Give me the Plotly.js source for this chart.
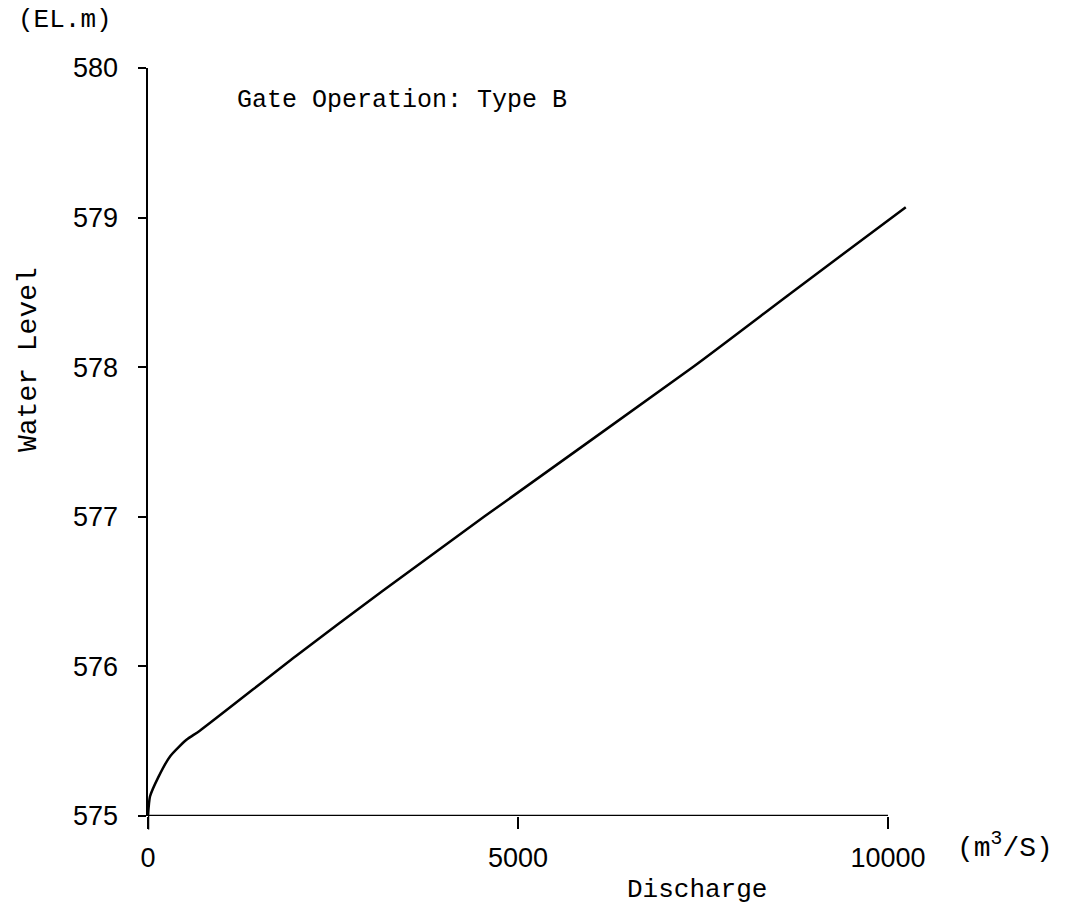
<!DOCTYPE html>
<html>
<head>
<meta charset="utf-8">
<script src="https://cdn.plot.ly/plotly-3.0.1.min.js"></script>
<style>html,body{margin:0;padding:0;background:#fff;}#chart{width:1068px;height:913px;}</style>
</head>
<body>
<div id="chart"></div>
<script>
// Discharge (m3/s) and water level (EL.m)
const discharge = [0, 27, 140, 300, 520, 700, 2000, 3160, 4540, 7360, 8700, 10240];
const waterLevel = [575, 575.13, 575.26, 575.40, 575.51, 575.57, 576.07, 576.5, 577.0, 578.0, 578.5, 579.07];

const xTickVals = [0, 5000, 10000];
const xTickText = ['0', '5000', '10000'];
const yTickVals = [575, 576, 577, 578, 579, 580];
const yTickText = ['575', '576', '577', '578', '579', '580'];

const chartTitle = 'Gate Operation: Type B';
const yUnit = '(EL.m)';
const yTitle = 'Water Level';
const xTitle = 'Discharge';
const xUnit = '(m<sup>3</sup>/S)';

const W = 1068, H = 913;
const L = 148, T = 68, PW = 777, PH = 748;
const px = v => (v - L) / PW;
const py = v => (T + PH - v) / PH;

const mono = 'Liberation Mono, DejaVu Sans Mono, monospace';
const numFont = 'Liberation Sans, Arial, sans-serif';

const trace = {
  x: discharge,
  y: waterLevel,
  type: 'scatter',
  mode: 'lines',
  line: {color: '#000', width: 2.5, shape: 'spline', smoothing: 0.6},
  hoverinfo: 'skip'
};

const layout = {
  width: W, height: H,
  margin: {l: L, t: T, r: W - L - PW, b: H - T - PH, pad: 0},
  paper_bgcolor: '#fff',
  plot_bgcolor: '#fff',
  showlegend: false,
  xaxis: {
    range: [0, 10500],
    showgrid: false, zeroline: false, showline: false,
    tickmode: 'array', tickvals: xTickVals, ticktext: xTickText,
    ticks: 'outside', ticklen: 12, tickwidth: 2.5, tickcolor: '#000',
    ticklabelstandoff: 6,
    tickfont: {family: numFont, size: 27, color: '#000'}
  },
  yaxis: {
    range: [575, 580],
    showgrid: false, zeroline: false,
    showline: true, linecolor: '#000', linewidth: 2.5,
    tickmode: 'array', tickvals: yTickVals, ticktext: yTickText,
    ticks: 'outside', ticklen: 8, tickwidth: 2, tickcolor: '#000',
    ticklabelstandoff: 14,
    tickfont: {family: numFont, size: 27, color: '#000'}
  },
  shapes: [
    {type: 'line', xref: 'x', yref: 'y', x0: xTickVals[0], x1: xTickVals[2], y0: 575, y1: 575,
     line: {color: '#000', width: 2.5}},
    {type: 'line', xref: 'x', yref: 'paper', x0: 0, x1: 0, y0: 0, y1: -0.018,
     line: {color: '#000', width: 2.5}}
  ],
  annotations: [
    {text: chartTitle, xref: 'paper', yref: 'paper', x: px(235), y: py(101),
     xanchor: 'left', yanchor: 'middle', showarrow: false,
     font: {family: mono, size: 25, color: '#000'}},
    {text: yUnit, xref: 'paper', yref: 'paper', x: px(16), y: py(20),
     xanchor: 'left', yanchor: 'middle', showarrow: false,
     font: {family: mono, size: 26, color: '#000'}},
    {text: yTitle, xref: 'paper', yref: 'paper', x: px(28), y: py(360),
     xanchor: 'center', yanchor: 'middle', textangle: -90, showarrow: false,
     font: {family: mono, size: 28, color: '#000'}},
    {text: xTitle, xref: 'paper', yref: 'paper', x: px(697), y: py(890),
     xanchor: 'center', yanchor: 'middle', showarrow: false,
     font: {family: mono, size: 26, color: '#000'}},
    {text: xUnit, xref: 'paper', yref: 'paper', x: px(955), y: py(846),
     xanchor: 'left', yanchor: 'middle', showarrow: false,
     font: {family: mono, size: 28, color: '#000'}}
  ]
};

Plotly.newPlot('chart', [trace], layout, {displayModeBar: false, staticPlot: true});
</script>
</body>
</html>
